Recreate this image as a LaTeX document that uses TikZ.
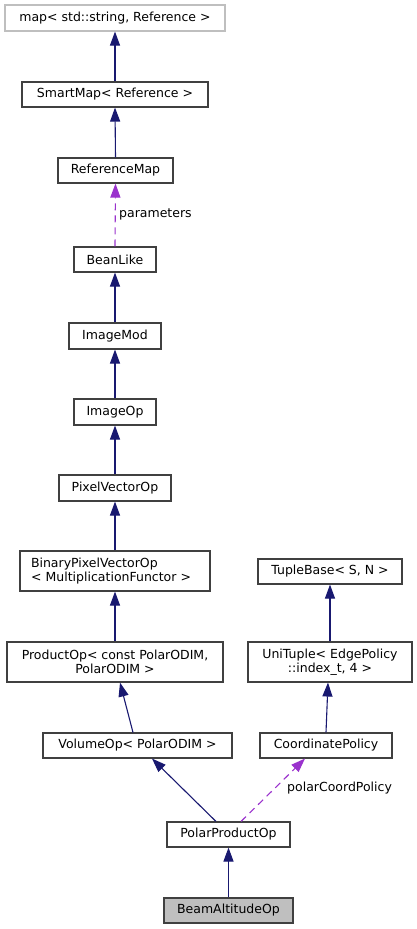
\documentclass[tikz,border=0pt]{standalone}
\usepackage{fontspec}
\setmainfont{DejaVu Sans}
\usetikzlibrary{arrows.meta}
\definecolor{edgeblue}{HTML}{191970}
\definecolor{edgepurple}{HTML}{9A32CD}
\definecolor{boxline}{HTML}{404040}
\definecolor{grayline}{HTML}{BFBFBF}
\definecolor{hilite}{HTML}{BFBFBF}
\tikzset{
  cls/.style={draw=boxline, line width=1.1pt, fill=white, inner sep=0pt, font=\fontsize{12.5}{14.5}\selectfont, text=black},
  inh/.style={draw=edgeblue, line width=1.1pt, -{Triangle[length=14pt,width=10pt]}},
  use/.style={draw=edgepurple, line width=1.1pt, dash pattern=on 7pt off 5pt, -{Triangle[length=14pt,width=10pt]}},
  lbl/.style={font=\fontsize{12.5}{14.5}\selectfont, text=black, inner sep=0pt}
}
\begin{document}
\begin{tikzpicture}[x=1pt,y=-1pt]
\useasboundingbox (0,0) rectangle (417,929);
\node[cls, draw=grayline, minimum width=220pt, minimum height=26pt] (map) at (115,18) {map< std::string, Reference >};
\node[cls, minimum width=186pt, minimum height=25pt] (smart) at (115,94.5) {SmartMap< Reference >};
\node[cls, minimum width=115pt, minimum height=25pt] (refmap) at (115.5,170.5) {ReferenceMap};
\node[cls, minimum width=82pt, minimum height=25pt] (bean) at (115,259.5) {BeanLike};
\node[cls, minimum width=92pt, minimum height=26pt] (imod) at (115,336) {ImageMod};
\node[cls, minimum width=82pt, minimum height=26pt] (iop) at (115,412) {ImageOp};
\node[cls, minimum width=112pt, minimum height=26pt] (pvo) at (115,488) {PixelVectorOp};
\node[cls, inner xsep=11pt, minimum height=40pt, align=left, text width=168pt] (bpvo) at (115,571) {BinaryPixelVectorOp\\< MultiplicationFunctor >};
\node[cls, minimum width=216pt, minimum height=40pt, align=center] (prod) at (115,662) {ProductOp< const PolarODIM,\\PolarODIM >};
\node[cls, minimum width=189pt, minimum height=25pt] (vol) at (137.5,745.5) {VolumeOp< PolarODIM >};
\node[cls, minimum width=144pt, minimum height=25pt] (tuple) at (330,571.5) {TupleBase< S, N >};
\node[cls, minimum width=164pt, minimum height=40pt, align=center] (uni) at (330,662) {UniTuple< EdgePolicy\\::index\_t, 4 >};
\node[cls, minimum width=132pt, minimum height=25pt] (coord) at (326,745.5) {CoordinatePolicy};
\node[cls, minimum width=123pt, minimum height=25pt] (ppo) at (228.5,834.5) {PolarProductOp};
\node[cls, fill=hilite, minimum width=129pt, minimum height=25pt] (beam) at (228.5,910.5) {BeamAltitudeOp};

\draw[inh] (smart.north) -- (map.south);
\draw[inh] (refmap.north) -- (smart.south);
\draw[use] (bean.north) -- (refmap.south);
\node[lbl, anchor=west] (lparam) at (119,214) {parameters};
\draw[inh] (imod.north) -- (bean.south);
\draw[inh] (iop.north) -- (imod.south);
\draw[inh] (pvo.north) -- (iop.south);
\draw[inh] (bpvo.north) -- (pvo.south);
\draw[inh] (prod.north) -- (bpvo.south);
\draw[inh] ([xshift=-4.5pt]vol.north) -- ([xshift=5pt]prod.south);
\draw[inh] (uni.north) -- (tuple.south);
\draw[inh] (coord.north) -- ([xshift=-2pt]uni.south);
\draw[inh] ([xshift=-12.5pt]ppo.north) -- ([xshift=14.5pt]vol.south);
\draw[use] ([xshift=12.5pt]ppo.north) -- ([xshift=-21pt]coord.south);
\node[lbl, anchor=west] (lpolar) at (287,788) {polarCoordPolicy};
\draw[inh] (beam.north) -- (ppo.south);
\end{tikzpicture}
\end{document}
